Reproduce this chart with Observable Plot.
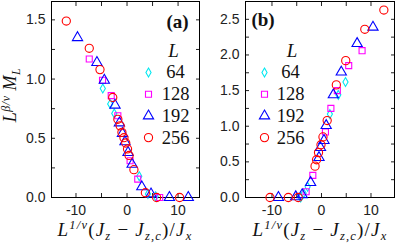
<!DOCTYPE html>
<html><head><meta charset="utf-8">
<script src="https://cdn.jsdelivr.net/npm/d3@7"></script>
<script src="https://cdn.jsdelivr.net/npm/@observablehq/plot@0.6"></script>
<style>
body{margin:0;background:#fff;}
#wrap{position:relative;width:395px;height:246px;overflow:hidden;background:#fff;}
#wrap svg{position:absolute;top:0;}
</style></head><body><div id="wrap"></div>
<script>
// ---------- data ----------
const sizeLabels = ["64", "128", "192", "256"];
const xMajorTicks = [-10, 0, 10];
const xMinorTicks = [-10, -5, 0, 5, 10];
const yTicksA = [0, 0.25, 0.5, 0.75, 1, 1.25, 1.5];
const yLabelsA = [0, 0.5, 1, 1.5];
const yTicksB = [0, 0.25, 0.5, 0.75, 1, 1.25, 1.5, 1.75, 2, 2.25, 2.5];
const yLabelsB = [0, 0.5, 1, 1.5, 2, 2.5];

// panel (a)
const a64x  = [-4.75, -3.3, -2.5, 2.4, 4.1, 5.6];
const a64y  = [0.92, 0.79, 0.71, 0.18, 0.03, 0.01];
const a128x = [-7.4, -4.8, -3.1, -1.8, 0.6, 2.1, 6.4];
const a128y = [1.17, 0.99, 0.86, 0.69, 0.31, 0.155, 0.0];
const a192x = [-9.7, -5.9, -4.45, -2.35, -1.5, -0.9, -0.4, 0.2, 1.0, 2.9, 4.7, 8.3, 12.0];
const a192y = [1.35, 1.14, 0.99, 0.78, 0.63, 0.54, 0.47, 0.38, 0.28, 0.09, 0.03, 0.0, 0.0];
const a256x = [-11.9, -7.4, -5.3, -2.8, -1.8, -1.35, -1.0, -0.6, -0.25, 0.1, 0.4, 1.35, 3.6, 5.8, 10.3];
const a256y = [1.49, 1.26, 1.08, 0.845, 0.66, 0.605, 0.55, 0.505, 0.46, 0.41, 0.355, 0.235, 0.04, 0.0, 0.0];

// panel (b)
const b64x  = [-4.2, -3.6, -2.8, 1.7, 3.4, 4.85];
const b64y  = [0.0, 0.06, 0.15, 1.17, 1.44, 1.62];
const b128x = [-3.1, -1.75, 0.8, 1.9, 3.2, 5.5, 8.2];
const b128y = [0.08, 0.31, 0.92, 1.25, 1.50, 1.85, 2.06];
const b192x = [-8.7, -5.2, -3.9, -2.2, -0.5, -0.2, 0.5, 0.95, 2.4, 4.0, 7.2, 10.4];
const b192y = [0.0, 0.01, 0.04, 0.21, 0.56, 0.70, 0.80, 1.01, 1.44, 1.76, 2.16, 2.39];
const b256x = [-10.4, -6.7, -4.7, -1.3, -1.0, -0.6, -0.1, 0.3, 1.15, 3.0, 4.9, 8.75, 12.6];
const b256y = [0.0, 0.0, 0.0, 0.44, 0.53, 0.63, 0.74, 0.85, 1.08, 1.58, 1.92, 2.36, 2.63];

// ---------- styling ----------
const seriesStyle = [
  {symbol: "diamond",  stroke: "#00e8f0", r: 2.7},
  {symbol: "square",   stroke: "#ff00ff", r: 3.4},
  {symbol: "triangle", stroke: "#0000ff", r: 3.8},
  {symbol: "circle",   stroke: "#ff0000", r: 4.1}
];
const serif = "'Liberation Serif', 'Times New Roman', 'DejaVu Serif', serif";
const sans = "'Liberation Sans', Arial, sans-serif";

function zip(xs, ys) { return xs.map((x, i) => ({x, y: ys[i]})); }

function makePanel({series, xDomain, yDomain, yTicks, yLabels, marginLeft, tag, leg}) {
  const marks = [
    Plot.axisX({anchor: "bottom", ticks: xMinorTicks, tickSize: -4, fill: "none", label: null}),
    Plot.axisX({anchor: "top", ticks: xMinorTicks, tickSize: -4, fill: "none", label: null}),
    Plot.axisY({anchor: "left", ticks: yTicks, tickSize: -4, fill: "none", label: null}),
    Plot.axisY({anchor: "right", ticks: yTicks, tickSize: -4, fill: "none", label: null}),
    Plot.axisX({anchor: "bottom", ticks: xMajorTicks, tickSize: 0, tickPadding: 8, label: null, tickFormat: d => String(d)}),
    Plot.axisY({anchor: "left", ticks: yLabels, tickSize: 0, tickPadding: 6, label: null, tickFormat: d3.format(".1f")}),
    Plot.frame({stroke: "black", strokeWidth: 1})
  ];
  series.forEach((s, i) => {
    const st = seriesStyle[i];
    marks.push(Plot.dot(s, {x: "x", y: "y", symbol: () => st.symbol, r: st.r, stroke: st.stroke, strokeWidth: 1.1, fill: "none"}));
  });
  // legend
  marks.push(Plot.text([tag], {text: d => d, frameAnchor: "top-left", dx: leg.tagX, dy: leg.tagY,
    fontWeight: "bold", fontSize: 19, textAnchor: "middle", lineAnchor: "middle"}));
  marks.push(Plot.text(["L"], {text: d => d, frameAnchor: "top-left", dx: leg.LX, dy: 49,
    fontStyle: "italic", fontSize: 19, textAnchor: "middle", lineAnchor: "middle"}));
  sizeLabels.forEach((lab, i) => {
    const st = seriesStyle[i];
    const dy = 71 + i * 21.7;
    marks.push(Plot.dot([lab], {frameAnchor: "top-left", dx: leg.mX, dy, symbol: () => st.symbol, r: st.r, stroke: st.stroke, strokeWidth: 1.1, fill: "none"}));
    marks.push(Plot.text([lab], {text: d => d, frameAnchor: "top-left", dx: leg.tX, dy,
      fontSize: 18.5, textAnchor: "middle", lineAnchor: "middle"}));
  });
  const svg = Plot.plot({
    width: 200, height: 246,
    marginLeft, marginRight: 1, marginTop: 1, marginBottom: 49,
    x: {domain: xDomain, axis: null},
    y: {domain: yDomain, axis: null},
    style: {fontFamily: sans, fontSize: "14px", color: "#222", background: "none", overflow: "visible"},
    marks
  });
  svg.style.background = "none";
  // legend texts in serif: pick the text elements that carry legend strings
  const legendStrings = new Set([tag, "L", ...sizeLabels]);
  svg.querySelectorAll("text").forEach(el => {
    if (legendStrings.has(el.textContent.trim())) {
      el.style.fontFamily = serif;
      el.style.fill = "#111";
    }
  });
  return svg;
}

function addXLabel(svg, cx) {
  const t = d3.select(svg).append("text")
    .attr("x", cx).attr("y", 236).attr("text-anchor", "middle")
    .style("font-family", serif).style("font-size", "19px").style("letter-spacing", "1.2px").attr("fill", "#111");
  t.append("tspan").attr("font-style", "italic").text("L");
  t.append("tspan").style("font-size", "12.5px").attr("dy", -7).attr("font-style", "italic").text("1/ν");
  t.append("tspan").attr("dy", 7).text("(");
  t.append("tspan").attr("font-style", "italic").text("J");
  t.append("tspan").style("font-size", "12.5px").attr("dy", 4).attr("font-style", "italic").text("z");
  t.append("tspan").attr("dy", -4).text(" − ");
  t.append("tspan").attr("font-style", "italic").text("J");
  t.append("tspan").style("font-size", "12.5px").attr("dy", 4).attr("font-style", "italic").text("z,c");
  t.append("tspan").attr("dy", -4).text(")/");
  t.append("tspan").attr("font-style", "italic").text("J");
  t.append("tspan").style("font-size", "12.5px").attr("dy", 4).attr("font-style", "italic").text("x");
}

function addYLabel(svg) {
  const t = d3.select(svg).append("text")
    .attr("transform", "translate(16,95) rotate(-90)").attr("text-anchor", "middle")
    .style("font-family", serif).style("font-size", "18px").style("letter-spacing", "0.5px").attr("fill", "#111");
  t.append("tspan").attr("font-style", "italic").text("L");
  t.append("tspan").style("font-size", "12px").attr("dy", -6).attr("font-style", "italic").text("β/ν");
  t.append("tspan").attr("dy", 6).attr("font-style", "italic").text(" M");
  t.append("tspan").style("font-size", "12px").attr("dy", 4).attr("font-style", "italic").text("L");
}

const wrap = document.getElementById("wrap");

const svgA = makePanel({
  series: [zip(a64x, a64y), zip(a128x, a128y), zip(a192x, a192y), zip(a256x, a256y)],
  xDomain: [-14.8, 14.2], yDomain: [0, 1.655], yTicks: yTicksA, yLabels: yLabelsA,
  marginLeft: 51, tag: "(a)",
  leg: {tagX: 126, tagY: 20, LX: 122, mX: 97, tX: 124}
});
svgA.style.left = "0px";
addXLabel(svgA, 125);
addYLabel(svgA);
wrap.appendChild(svgA);

const svgB = makePanel({
  series: [zip(b64x, b64y), zip(b128x, b128y), zip(b192x, b192y), zip(b256x, b256y)],
  xDomain: [-15.35, 14.75], yDomain: [0, 2.75], yTicks: yTicksB, yLabels: yLabelsB,
  marginLeft: 50, tag: "(b)",
  leg: {tagX: 17.5, tagY: 18, LX: 46.5, mX: 19, tX: 45}
});
svgB.style.left = "195px";
addXLabel(svgB, 125);
wrap.appendChild(svgB);
</script>
</body></html>
